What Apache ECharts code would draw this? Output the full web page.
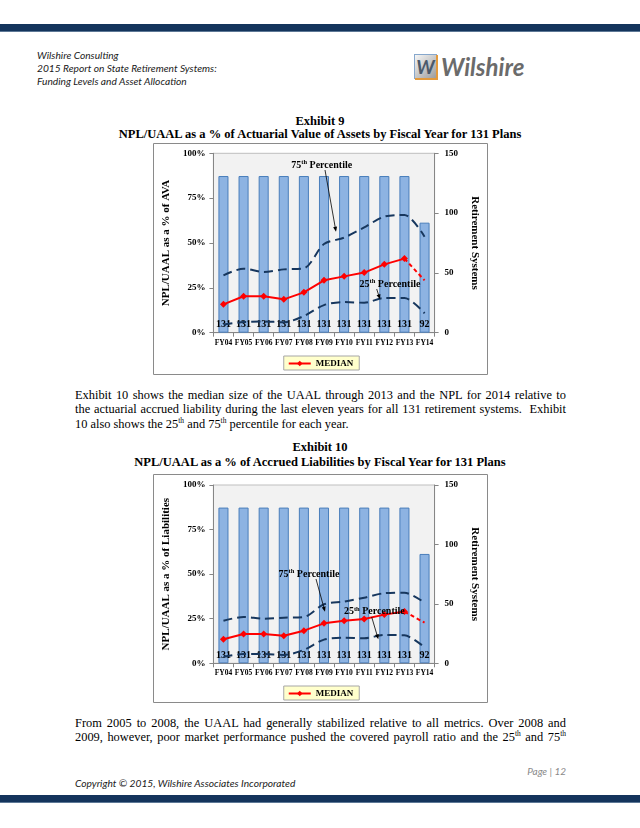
<!DOCTYPE html>
<html><head><meta charset="utf-8">
<script src="https://cdn.jsdelivr.net/npm/echarts@6/dist/echarts.min.js"></script>
<style>
body{margin:0;background:#fff;}
#page{position:relative;width:640px;height:828px;overflow:hidden;background:#fff;font-family:"Liberation Serif","Times New Roman",serif;color:#000;}
.abs{position:absolute;}
.hdr{font-family:Lato,"Open Sans",sans-serif;font-style:italic;font-size:10.2px;line-height:13px;color:#1a1a1a;left:37px;}
.ttl{left:0;width:640px;text-align:center;font-weight:bold;font-size:12.5px;line-height:14px;white-space:nowrap;}
.para{left:75px;width:491px;font-size:12.4px;line-height:14.5px;}
.para div{text-align:justify;text-align-last:justify;height:14.5px;}
.para div.end{text-align:left;text-align-last:left;}
sup{font-size:7.5px;line-height:0;vertical-align:5px;}
.bar{left:0;width:640px;height:7px;background:#14345c;border-bottom:1px solid #5d7896;}
</style></head>
<body><div id="page">
<div class="abs bar" style="top:24px"></div>
<div class="abs hdr" style="top:48.5px">Wilshire Consulting<br>2015 Report on State Retirement Systems:<br>Funding Levels and Asset Allocation</div>
<div class="abs" style="left:415px;top:55px;width:21px;height:23px;background:linear-gradient(135deg,#f6f6f6,#9d9d9d);border-right:2px solid #e39a3c;border-bottom:2px solid #e39a3c;box-shadow:-1px -1px 0 #86a7cc;font:italic bold 19px Lato,sans-serif;color:#4b5a6b;text-align:center;line-height:23px;">W</div>
<div class="abs" style="left:441px;top:52px;font:italic bold 24px Lato,sans-serif;color:#6b6b6b;line-height:30px;">Wilshire</div>

<div class="abs ttl" style="top:114px">Exhibit 9</div>
<div class="abs ttl" style="top:127px">NPL/UAAL as a % of Actuarial Value of Assets by Fiscal Year for 131 Plans</div>
<div id="c1" class="abs" style="left:153px;top:143px;width:335px;height:232px;"></div>

<div class="abs para" style="top:387.75px">
<div>Exhibit 10 shows the median size of the UAAL through 2013 and the NPL for 2014 relative to</div>
<div>the actuarial accrued liability during the last eleven years for all 131 retirement systems.&nbsp; Exhibit</div>
<div class="end">10 also shows the 25<sup>th</sup> and 75<sup>th</sup> percentile for each year.</div>
</div>

<div class="abs ttl" style="top:440px">Exhibit 10</div>
<div class="abs ttl" style="top:455px">NPL/UAAL as a % of Accrued Liabilities by Fiscal Year for 131 Plans</div>
<div id="c2" class="abs" style="left:153px;top:474px;width:335px;height:229px;"></div>

<div class="abs para" style="top:715.75px">
<div>From 2005 to 2008, the UAAL had generally stabilized relative to all metrics. Over 2008 and</div>
<div>2009, however, poor market performance pushed the covered payroll ratio and the 25<sup>th</sup> and 75<sup>th</sup></div>
</div>

<div class="abs" style="right:74px;top:765px;font:italic 10px Lato,sans-serif;color:#8a8a8a;">Page | 12</div>
<div class="abs" style="left:75px;top:777px;font:italic 10.2px Lato,sans-serif;color:#1a1a1a;">Copyright © 2015, Wilshire Associates Incorporated</div>
<div class="abs bar" style="top:795px"></div>
</div>
<script>
const categories = ['FY04','FY05','FY06','FY07','FY08','FY09','FY10','FY11','FY12','FY13','FY14'];
const systemCounts = [131,131,131,131,131,131,131,131,131,131,92];
const pctTicks = {min:0, max:100, interval:25};
const countTicks = {min:0, max:150, interval:50};

const ava75     = [32.0,35.7,33.8,35.3,35.9,49.4,53.0,58.7,64.7,65.6,53.5];
const avaMedian = [15.8,20.3,20.3,18.6,22.5,29.2,31.4,33.5,38.1,41.3,29.2];
const ava25     = [4.6,5.9,6.3,5.8,9.3,15.4,17.1,16.7,19.3,19.3,10.8];

const liab75     = [23.9,26.0,25.0,25.6,26.0,33.1,34.6,36.8,39.3,39.6,34.0];
const liabMedian = [13.5,16.4,16.4,15.5,18.3,22.4,23.9,24.9,27.3,29.0,22.8];
const liab25     = [3.7,5.2,5.2,4.7,7.5,13.3,14.4,14.0,15.9,15.7,9.0];

const SERIF = '"Liberation Serif","Times New Roman",serif';
const AXIS_GRAY = '#868686';
const NAVY = '#17375e';

function arrow(p1, p2){
  const dx=p2[0]-p1[0], dy=p2[1]-p1[1], L=Math.hypot(dx,dy);
  const ux=dx/L, uy=dy/L, nx=-uy, ny=ux, hl=5, hw=2;
  return [
    {type:'line', z:100, shape:{x1:p1[0],y1:p1[1],x2:p2[0]-ux*2,y2:p2[1]-uy*2}, style:{stroke:'#000',lineWidth:0.8}},
    {type:'polygon', z:100, shape:{points:[[p2[0],p2[1]],[p2[0]-ux*hl+nx*hw,p2[1]-uy*hl+ny*hw],[p2[0]-ux*hl-nx*hw,p2[1]-uy*hl-ny*hw]]}, style:{fill:'#000'}}
  ];
}
function label(txt, sup, rest, x, y){
  return {type:'text', z:100, style:{text:'{b|'+txt+'}{s|'+sup+'}{b|'+rest+'}', x:x, y:y, align:'center', verticalAlign:'middle',
    rich:{b:{fontFamily:SERIF,fontWeight:'bold',fontSize:10,lineHeight:12,fill:'#000'},
          s:{fontFamily:SERIF,fontWeight:'bold',fontSize:6.5,lineHeight:12,verticalAlign:'top',fill:'#000'}}}};
}

function build(cfg){
  const n = categories.length;
  const medSolid = cfg.median.map((v,i)=> i<n-1 ? v : '-');
  const medDash  = cfg.median.map((v,i)=> i>=n-2 ? v : '-');
  const dashed = {color:NAVY, width:2, type:[9,5]};
  const g = [{type:'rect', shape:{x:0.5,y:0.5,width:cfg.w-1,height:cfg.h-1}, style:{fill:'none',stroke:'#8a8a8a',lineWidth:1}}];
  g.push(label('75','th',' Percentile',cfg.a75.t[0],cfg.a75.t[1]));
  g.push(...arrow(cfg.a75.p1,cfg.a75.p2));
  g.push(label('25','th',' Percentile',cfg.a25.t[0],cfg.a25.t[1]));
  g.push(...arrow(cfg.a25.p1,cfg.a25.p2));
  return {
    animation:false,
    grid:{left:46,width:246.5,top:cfg.top,height:cfg.height,show:true,backgroundColor:'#f2f2f2',borderColor:'#bfbfbf',borderWidth:1},
    legend:{data:['MEDIAN'],left:'center',bottom:cfg.legendBottom,backgroundColor:'#ffffcc',borderColor:'#a6a6a6',borderWidth:1,
      padding:[3,6,2,4],itemWidth:22,itemHeight:7,itemGap:4,
      textStyle:{fontFamily:SERIF,fontWeight:'bold',fontSize:9,color:'#000'}},
    xAxis:{type:'category',data:categories,
      axisLine:{lineStyle:{color:AXIS_GRAY}},axisTick:{show:true,length:4,lineStyle:{color:AXIS_GRAY}},
      axisLabel:{fontFamily:SERIF,fontWeight:'bold',fontSize:7.5,color:'#000',margin:6,interval:0}},
    yAxis:[
      {type:'value',min:pctTicks.min,max:pctTicks.max,interval:pctTicks.interval,
       name:cfg.yName,nameLocation:'middle',nameRotate:90,nameGap:31,
       nameTextStyle:{fontFamily:SERIF,fontWeight:'bold',fontSize:11,color:'#000'},
       axisLine:{show:true,lineStyle:{color:AXIS_GRAY}},axisTick:{show:true,length:4,lineStyle:{color:AXIS_GRAY}},
       splitLine:{show:false},
       axisLabel:{formatter:'{value}%',fontFamily:SERIF,fontWeight:'bold',fontSize:9,color:'#000',margin:8}},
      {type:'value',min:countTicks.min,max:countTicks.max,interval:countTicks.interval,position:'right',
       name:'Retirement Systems',nameLocation:'middle',nameRotate:-90,nameGap:24,
       nameTextStyle:{fontFamily:SERIF,fontWeight:'bold',fontSize:11,color:'#000'},
       axisLine:{show:true,lineStyle:{color:AXIS_GRAY}},axisTick:{show:true,length:4,lineStyle:{color:AXIS_GRAY}},
       splitLine:{show:false},
       axisLabel:{fontFamily:SERIF,fontWeight:'bold',fontSize:9,color:'#000',margin:10}}
    ],
    series:[
      {type:'bar',yAxisIndex:1,data:systemCounts,barWidth:'50%',z:1,
       itemStyle:{color:'#8db3e2',borderColor:'#4a7ebb',borderWidth:1},
       label:{show:true,position:'insideBottom',distance:3,fontFamily:SERIF,fontWeight:'bold',fontSize:10,color:'#000'}},
      {type:'line',name:'75th',data:cfg.p75,smooth:0.3,showSymbol:false,lineStyle:dashed,z:3},
      {type:'line',name:'25th',data:cfg.p25,smooth:0.3,showSymbol:false,lineStyle:dashed,z:3},
      {type:'line',name:'MEDIAN',data:medSolid,symbol:'diamond',symbolSize:7,itemStyle:{color:'#ff0000'},
       lineStyle:{color:'#ff0000',width:2},z:4},
      {type:'line',name:'MEDIAN_proj',data:medDash,showSymbol:false,itemStyle:{color:'#ff0000'},
       lineStyle:{color:'#ff0000',width:2,type:[4,3]},z:4}
    ],
    graphic:g
  };
}

const c1 = echarts.init(document.getElementById('c1'));
c1.setOption(build({w:335,h:232,top:10.3,height:179.4,legendBottom:5,yName:'NPL/UAAL as a % of AVA',
  p75:ava75,median:avaMedian,p25:ava25,
  a75:{t:[168.7,22],p1:[172,27],p2:[183,88.7]},
  a25:{t:[237,141.3],p1:[223.7,146],p2:[227,156.3]}}));

const c2 = echarts.init(document.getElementById('c2'));
c2.setOption(build({w:335,h:229,top:11,height:178.3,legendBottom:3,yName:'NPL/UAAL as a % of Liabilities',
  p75:liab75,median:liabMedian,p25:liab25,
  a75:{t:[156,100.3],p1:[163,105],p2:[172,137.7]},
  a25:{t:[221.3,137.7],p1:[218.7,143],p2:[225.3,165.3]}}));
</script>
</body></html>
